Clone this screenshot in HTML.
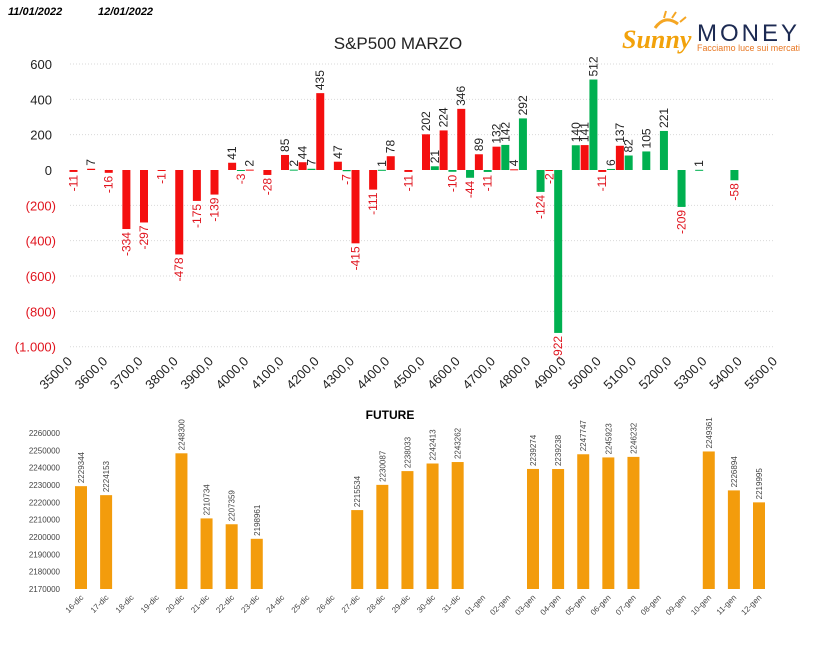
<!DOCTYPE html>
<html><head><meta charset="utf-8">
<style>
html,body{margin:0;padding:0;background:#fff;}
svg{display:block;font-family:"Liberation Sans","DejaVu Sans",sans-serif;}
</style></head>
<body>
<svg id="chart" width="814" height="646" viewBox="0 0 814 646" xmlns="http://www.w3.org/2000/svg">
<text x="8" y="15" font-size="11" font-weight="bold" font-style="italic" fill="#000">11/01/2022</text>
<text x="98" y="15" font-size="11" font-weight="bold" font-style="italic" fill="#000">12/01/2022</text>
<text x="398" y="49" font-size="17" text-anchor="middle" fill="#222">S&amp;P500 MARZO</text>
<g>
  <path d="M655 28 Q665 14 678 24" stroke="#f5a623" stroke-width="3" fill="none"/>
  <path d="M664 18 L666 11 M672 18 L676 12 M680 22 L686 17" stroke="#f5a623" stroke-width="2"/>
  <text x="622" y="48" font-size="26" font-weight="bold" font-style="italic" font-family="Liberation Serif, serif" fill="#f2a20b">Sunny</text>
  <text x="697" y="41" font-size="24" letter-spacing="3" fill="#1c2a52">MONEY</text>
  <text x="697" y="51" font-size="9.5" fill="#e87722" textLength="103" lengthAdjust="spacingAndGlyphs">Facciamo luce sui mercati</text>
</g>
<g id="topchart"></g>
<text x="390" y="419" font-size="12" font-weight="bold" text-anchor="middle" fill="#000">FUTURE</text>
<g id="bottomchart"></g>
</svg>
<script>
const strikeStart = 3500;
const strikeStep = 50;
const redValues = [-11,7,-16,-334,-297,-1,-478,-175,-139,41,2,-28,85,44,435,47,-415,-111,78,-11,202,224,346,89,132,4,null,-2,null,141,-11,137,null,null,null,null,null,null,null,null];
const greenValues = [null,null,null,null,null,null,null,null,null,-3,null,null,2,7,null,-7,null,1,null,null,21,-10,-44,-11,142,292,-124,-922,140,512,6,82,105,221,-209,1,null,-58,null,null];
const topTicks = [600,400,200,0,-200,-400,-600,-800,-1000];
const topTickLabels = ["600","400","200","0","(200)","(400)","(600)","(800)","(1.000)"];
const xTickLabels = ["3500,0","3600,0","3700,0","3800,0","3900,0","4000,0","4100,0","4200,0","4300,0","4400,0","4500,0","4600,0","4700,0","4800,0","4900,0","5000,0","5100,0","5200,0","5300,0","5400,0","5500,0"];

const futDates = ["16-dic","17-dic","18-dic","19-dic","20-dic","21-dic","22-dic","23-dic","24-dic","25-dic","26-dic","27-dic","28-dic","29-dic","30-dic","31-dic","01-gen","02-gen","03-gen","04-gen","05-gen","06-gen","07-gen","08-gen","09-gen","10-gen","11-gen","12-gen"];
const futValues = [2229344,2224153,null,null,2248300,2210734,2207359,2198961,null,null,null,2215534,2230087,2238033,2242413,2243262,null,null,2239274,2239238,2247747,2245923,2246232,null,null,2249361,2226894,2219995];
const futTicks = [2260000,2250000,2240000,2230000,2220000,2210000,2200000,2190000,2180000,2170000];

const NS = "http://www.w3.org/2000/svg";
function mk(tag, attrs, parent, txt){
  const e = document.createElementNS(NS, tag);
  for (const k in attrs) e.setAttribute(k, attrs[k]);
  if (txt !== undefined) e.textContent = txt;
  parent.appendChild(e);
  return e;
}
const topG = document.getElementById('topchart');
const tx0 = 70, tx1 = 775, nCat = redValues.length;
const catW = (tx1 - tx0) / nCat;
const yTop = v => 170 - v * 0.1767;
topTicks.forEach((t, i) => {
  if (t !== 0) {
    const g = mk('line', {x1: tx0, x2: tx1, y1: yTop(t), y2: yTop(t), stroke: '#d9d9d9', 'stroke-width': 1, 'stroke-dasharray': '1,2'}, topG);
    
    
  }
  const l = mk('text', {x: t < 0 ? 56 : 52, y: yTop(t) + 5, 'font-size': 13, 'text-anchor': 'end', fill: t < 0 ? '#e0141e' : '#222'}, topG, topTickLabels[i]);
  
  
});
xTickLabels.forEach((s, i) => {
  const x = tx0 + i * 2 * catW + 3, y = 362;
  const l = mk('text', {x: x, y: y, 'font-size': 13, 'text-anchor': 'end', fill: '#222', transform: `rotate(-45 ${x} ${y})`}, topG, s);
  
  
});
function topBar(v, i, off, color, name){
  if (v === null) return;
  const cx = tx0 + i * catW + 3.5 + off;
  const y0 = yTop(0), y1 = yTop(v);
  const h = Math.max(Math.abs(y1 - y0), 1);
  const b = mk('rect', {x: cx - 4, y: Math.min(y0, y1), width: 8, height: h, fill: color}, topG);
  
  
  const lx = cx + 4;
  let lab;
  if (v >= 0) {
    const ly = Math.min(y0, y1) - 3;
    lab = mk('text', {x: lx, y: ly, 'font-size': 12, fill: '#222', transform: `rotate(-90 ${lx} ${ly})`}, topG, String(v));
  } else {
    const ly = Math.max(y0, y1) + 3;
    lab = mk('text', {x: lx, y: ly, 'font-size': 12, fill: '#e0141e', 'text-anchor': 'end', transform: `rotate(-90 ${lx} ${ly})`}, topG, String(v));
  }
  
  
}
for (let i = 0; i < nCat; i++) {
  topBar(redValues[i], i, 0, '#f40f0f', 'red-bar');
  topBar(greenValues[i], i, 8.8, '#00b050', 'green-bar');
}
const botG = document.getElementById('bottomchart');
const yB = v => 589 - (v - 2170000) * 0.001733;
const bx0 = 81, bStep = (759 - 81) / (futDates.length - 1);
futTicks.forEach(t => {
  const l = mk('text', {x: 60, y: yB(t) + 3, 'font-size': 8, 'text-anchor': 'end', fill: '#444'}, botG, String(t));
  
  
});
futDates.forEach((d, i) => {
  const cx = bx0 + i * bStep;
  const v = futValues[i];
  if (v !== null) {
    const b = mk('rect', {x: cx - 6, y: yB(v), width: 12, height: 589 - yB(v), fill: '#f39c0c'}, botG);
    
    
    const lx = cx + 3, ly = yB(v) - 3;
    const l = mk('text', {x: lx, y: ly, 'font-size': 8, fill: '#444', transform: `rotate(-90 ${lx} ${ly})`}, botG, String(v));
    
    
  }
  const x = cx + 3, y = 598;
  const l = mk('text', {x: x, y: y, 'font-size': 8, 'text-anchor': 'end', fill: '#444', transform: `rotate(-45 ${x} ${y})`}, botG, d);
  
  
});
</script>
</body></html>
